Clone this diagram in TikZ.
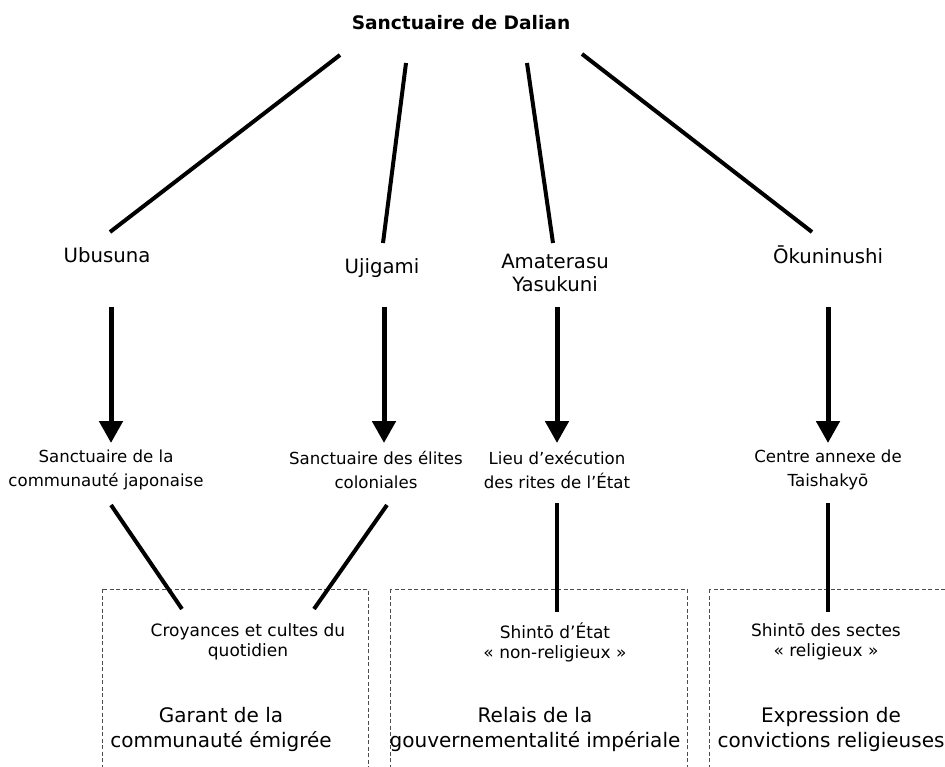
\documentclass[tikz,border=0pt]{standalone}
\usepackage{fontspec}
\setmainfont{DejaVu Sans}
\usetikzlibrary{arrows.meta,calc}
\begin{document}
\begin{tikzpicture}[x=1pt,y=-1pt,
  lab/.style={inner sep=0pt,align=center,text=black},
  ttl/.style={lab,font=\bfseries\fontsize{18.6}{22}\selectfont},
  lvA/.style={lab,font=\fontsize{19.7}{23}\selectfont},
  lvB/.style={lab,font=\fontsize{16.6}{24}\selectfont},
  lvC/.style={lab,font=\fontsize{17}{20}\selectfont},
  lvD/.style={lab,font=\fontsize{20}{25}\selectfont},
  link/.style={line width=4pt,black},
  arr/.style={line width=5pt,black,-{Triangle[length=22pt,width=23pt]}},
  dashbox/.style={draw=black!70,line width=1pt,dash pattern=on 4pt off 2.5pt}]
\useasboundingbox (0,0) rectangle (945,767);
\fill[white] (0,0) rectangle (945,767);

% dashed frames
\begin{scope}
\clip (0,0) rectangle (945,767);
\draw[dashbox] (102,589) rectangle (368,800);
\draw[dashbox] (390,589) rectangle (687,800);
\draw[dashbox] (709,589) rectangle (980,800);
\end{scope}

% nodes
\node[ttl] (title) at (461,23) {Sanctuaire de Dalian};
\node[lvA] (ubu) at (107,255) {Ubusuna};
\node[lvA] (uji) at (382,268) {Ujigami};
\node[lvA] (ama) at (555,273) {Amaterasu\\Yasukuni};
\node[lvA] (oku) at (828,255) {Ōkuninushi};

\node[lvB] (l2a) at (106,470) {Sanctuaire de la\\communauté japonaise};
\node[lvB] (l2b) at (376,470) {Sanctuaire des élites\\coloniales};
\node[lvB] (l2c) at (557,470) {Lieu d’exécution\\des rites de l’État};
\node[lvB] (l2d) at (828,470) {Centre annexe de\\Taishakyō};

\node[lvC] (l3a) at (248,642) {Croyances et cultes du\\quotidien};
\node[lvC] (l3b) at (555,642) {Shintō d’État\\« non-religieux »};
\node[lvC] (l3c) at (826,642) {Shintō des sectes\\« religieux »};

\node[lvD] (l4a) at (221,729) {Garant de la\\communauté émigrée};
\node[lvD] (l4b) at (535,729) {Relais de la\\gouvernementalité impériale};
\node[lvD] (l4c) at (831,729) {Expression de\\convictions religieuses};

% title to first level
\draw[link] ($(title)+(-121,32)$) -- ($(ubu)+(3,-23)$);
\draw[link] ($(title)+(-55,40)$) -- ($(uji)+(1,-25)$);
\draw[link] ($(title)+(66,40)$) -- ($(ama)+(-2,-30)$);
\draw[link] ($(title)+(121,31)$) -- ($(oku)+(-16,-23)$);

% arrows
\draw[arr] ($(ubu)+(4,52)$) -- ($(l2a)+(5,-27)$);
\draw[arr] ($(uji)+(2,39)$) -- ($(l2b)+(8,-27)$);
\draw[arr] ($(ama)+(2,34)$) -- ($(l2c)+(0,-27)$);
\draw[arr] ($(oku)+(0,52)$) -- ($(l2d)+(0,-27)$);

% second to third level
\draw[link] ($(l2a)+(5,35)$) -- ($(l3a)+(-66,-33)$);
\draw[link] ($(l2b)+(11,35)$) -- ($(l3a)+(66,-33)$);
\draw[link] ($(l2c)+(0,33)$) -- ($(l3b)+(2,-30)$);
\draw[link] ($(l2d)+(0,33)$) -- ($(l3c)+(2,-30)$);
\end{tikzpicture}
\end{document}
